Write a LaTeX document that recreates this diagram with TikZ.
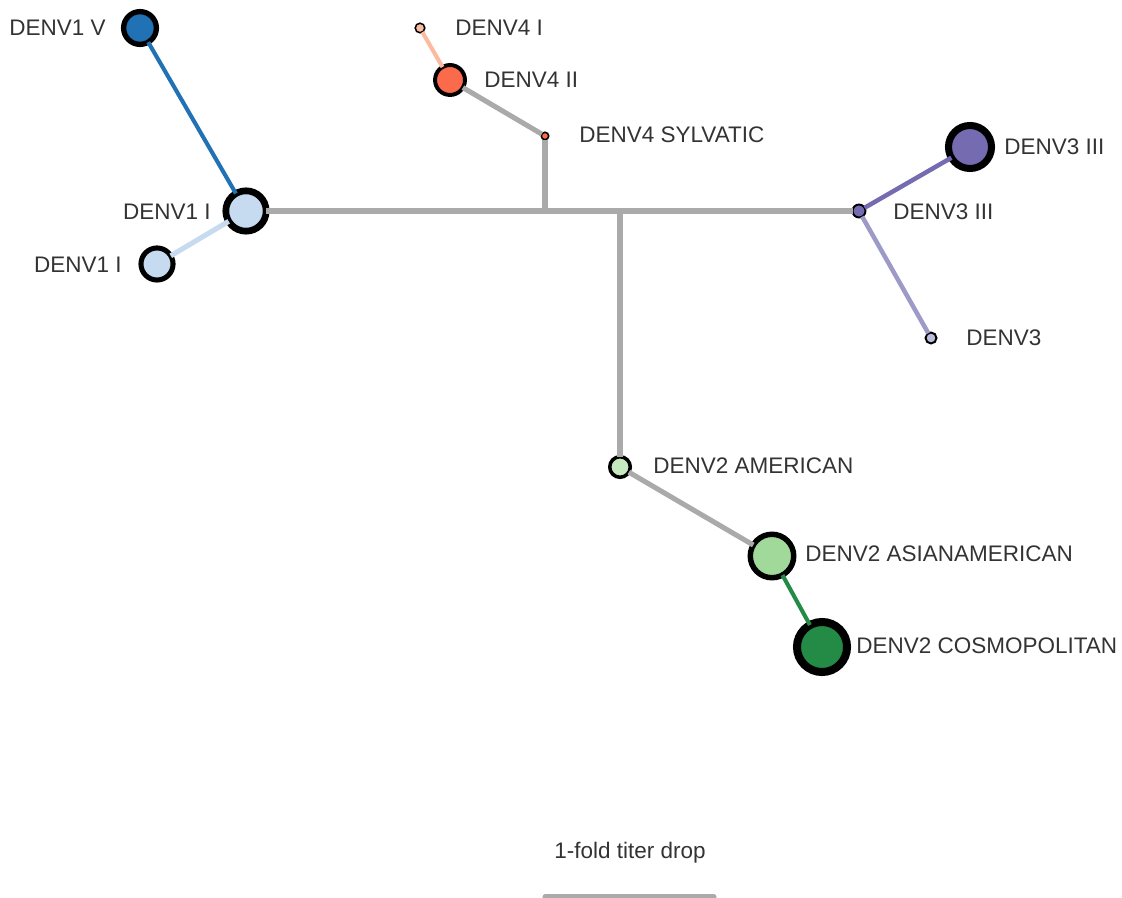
\documentclass[tikz,border=0pt]{standalone}
\usepackage{fontspec}
\setmainfont{Liberation Sans}
\usetikzlibrary{positioning}
\definecolor{denvgray}{HTML}{AAAAAA}
\definecolor{denvtext}{HTML}{333333}
\definecolor{dOneDark}{HTML}{2171B5}
\definecolor{dOneLight}{HTML}{C6DBEF}
\definecolor{dFourLight}{HTML}{FCBBA1}
\definecolor{dFourMid}{HTML}{FB6A4A}
\definecolor{dThreeDark}{HTML}{756BB1}
\definecolor{dThreeEdge}{HTML}{9E9AC8}
\definecolor{dThreeLight}{HTML}{BCBDDC}
\definecolor{dTwoPale}{HTML}{C7E9C0}
\definecolor{dTwoLight}{HTML}{A1D99B}
\definecolor{dTwoDark}{HTML}{238B45}
\begin{document}
\begin{tikzpicture}[x=0.025cm,y=-0.025cm,
  bub/.style={circle,draw=black,inner sep=0pt,outer sep=0pt},
  tag/.style={font=\fontsize{16pt}{19pt}\selectfont,text=denvtext,inner sep=0pt,
    text height=11.5pt,text depth=0pt},
  branch/.style={line width=3.6pt,denvgray},
  twig/.style={line width=2.9pt}
]
\useasboundingbox (0,0) rectangle (1122,898);
\coordinate (jfour) at (545,211);
\coordinate (jtwo) at (620,211);
\node[bub,fill=dOneDark,minimum size=23.3pt,line width=3.8pt] (d1v) at (140,28) {};
\node[bub,fill=dOneLight,minimum size=28.7pt,line width=4.8pt] (d1i) at (246,211) {};
\node[bub,fill=dOneLight,minimum size=22.8pt,line width=3.6pt] (d1ib) at (157,264) {};
\node[bub,fill=dFourLight,minimum size=6.8pt,line width=1.1pt] (d4i) at (420,28) {};
\node[bub,fill=dFourMid,minimum size=21.3pt,line width=2.8pt] (d4ii) at (450,80) {};
\node[bub,fill=dFourMid,minimum size=5.3pt,line width=1.1pt] (d4s) at (545,136) {};
\node[bub,fill=dThreeDark,minimum size=30.6pt,line width=5pt] (d3iiib) at (970,147) {};
\node[bub,fill=dThreeDark,minimum size=9.2pt,line width=1.4pt] (d3iii) at (859,211) {};
\node[bub,fill=dThreeLight,minimum size=7.8pt,line width=1.4pt] (d3) at (931,338) {};
\node[bub,fill=dTwoPale,minimum size=14.6pt,line width=2.5pt] (d2am) at (620,467) {};
\node[bub,fill=dTwoLight,minimum size=30.9pt,line width=3.9pt] (d2aa) at (772,556) {};
\node[bub,fill=dTwoDark,minimum size=35.6pt,line width=5.7pt] (d2co) at (822,647) {};
\draw[branch] (d1i) -- (d3iii);
\draw[branch] (jfour) -- (d4s);
\draw[branch] (d4s) -- (d4ii);
\draw[branch] (jtwo) -- (d2am);
\draw[branch] (d2am) -- (d2aa);
\draw[twig,dOneDark] (d1i) -- (d1v);
\draw[twig,dOneLight,line width=3.6pt] (d1i) -- (d1ib);
\draw[twig,dFourLight] (d4ii) -- (d4i);
\draw[twig,dThreeDark,line width=3.2pt] (d3iii) -- (d3iiib);
\draw[twig,dThreeEdge,line width=3.2pt] (d3iii) -- (d3);
\draw[twig,dTwoDark] (d2aa) -- (d2co);
\node[tag,anchor=east] (l1v) at (106,27) {DENV1 V};
\node[tag,anchor=east] (l1i) at (211,211) {DENV1 I};
\node[tag,anchor=east] (l1ib) at (122,264) {DENV1 I};
\node[tag,anchor=west] (l4i) at (455,27) {DENV4 I};
\node[tag,anchor=west] (l4ii) at (484,79) {DENV4 II};
\node[tag,anchor=west] (l4s) at (579,134) {DENV4 SYLVATIC};
\node[tag,anchor=west] (l3iiib) at (1004,146) {DENV3 III};
\node[tag,anchor=west] (l3iii) at (893,211) {DENV3 III};
\node[tag,anchor=west] (l3) at (966,337) {DENV3};
\node[tag,anchor=west] (l2am) at (653,465) {DENV2 AMERICAN};
\node[tag,anchor=west] (l2aa) at (805,553) {DENV2 ASIANAMERICAN};
\node[tag,anchor=west] (l2co) at (856,645) {DENV2 COSMOPOLITAN};
\node[font=\fontsize{16pt}{19pt}\selectfont,text=denvtext,anchor=base,inner sep=0pt] (scale) at (630,858) {1-fold titer drop};
\coordinate (barl) at (545,897);
\coordinate (barr) at (714,897);
\draw[branch,line cap=round] (barl) -- (barr);
\end{tikzpicture}
\end{document}
